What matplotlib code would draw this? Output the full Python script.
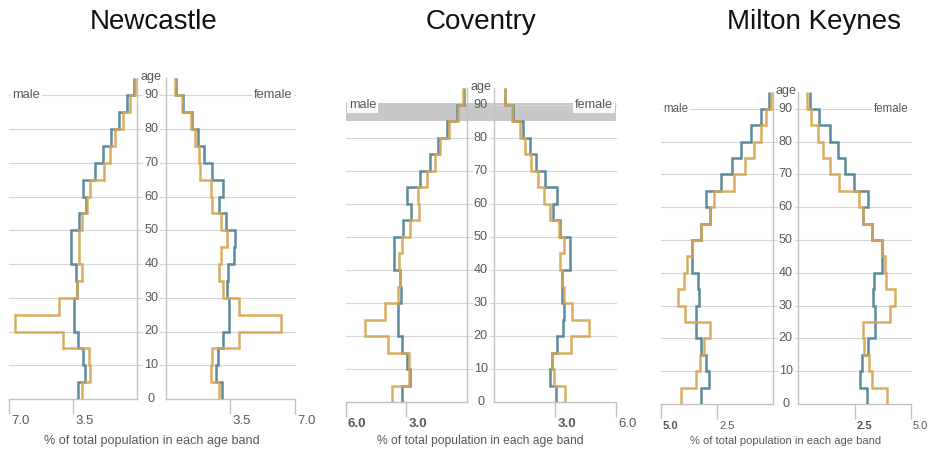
import numpy as np
import matplotlib.pyplot as plt

plt.rcParams['font.family'] = ['Liberation Sans', 'DejaVu Sans']

# five-year age bands, 90+ drawn up to 95
band_edges = [0, 5, 10, 15, 20, 25, 30, 35, 40, 45, 50, 55, 60, 65, 70, 75, 80, 85, 90, 95]
age_ticks = [0, 10, 20, 30, 40, 50, 60, 70, 80, 90]

# England and Wales profile (% of total population per band)
ew_male = [3.20, 2.85, 2.97, 3.21, 3.43, 3.42, 3.29, 3.33, 3.63, 3.63,
           3.19, 2.80, 2.98, 2.32, 1.85, 1.43, 0.99, 0.53, 0.18]
ew_female = [3.05, 2.73, 2.84, 3.09, 3.40, 3.42, 3.31, 3.35, 3.71, 3.73,
             3.25, 2.89, 3.10, 2.48, 2.07, 1.74, 1.41, 0.94, 0.53]

newcastle_male = [3.02, 2.55, 2.64, 4.03, 6.68, 4.24, 3.26, 3.02, 3.15, 3.15,
                  2.99, 2.71, 2.57, 1.80, 1.48, 1.20, 0.78, 0.40, 0.13]
newcastle_female = [2.89, 2.44, 2.51, 3.96, 6.22, 3.96, 3.11, 2.89, 2.98, 3.29,
                    2.97, 2.51, 2.42, 1.84, 1.81, 1.57, 1.34, 0.85, 0.49]

coventry_male = [3.71, 2.87, 2.90, 3.93, 5.07, 4.04, 3.42, 3.31, 3.37, 3.22,
                 2.84, 2.39, 2.43, 2.01, 1.60, 1.33, 0.91, 0.48, 0.20]
coventry_female = [3.46, 2.92, 2.82, 3.75, 4.67, 3.83, 3.42, 3.34, 3.25, 3.42,
                   3.20, 2.76, 2.46, 2.15, 1.82, 1.52, 1.27, 0.89, 0.53]

mk_male = [4.11, 3.43, 3.26, 3.09, 2.79, 3.93, 4.22, 3.97, 3.83, 3.63,
           3.21, 2.81, 2.62, 1.75, 1.26, 0.86, 0.55, 0.33, 0.12]
mk_female = [3.93, 3.27, 3.12, 2.90, 2.89, 4.05, 4.27, 3.90, 3.85, 3.73,
             3.26, 2.89, 2.71, 1.81, 1.41, 1.08, 0.86, 0.56, 0.40]

areas = ["Newcastle", "Coventry", "Milton Keynes"]
area_male = [newcastle_male, coventry_male, mk_male]
area_female = [newcastle_female, coventry_female, mk_female]
x_max = [7.0, 6.0, 5.0]
x_ticks = [[7.0, 3.5], [6.0, 3.0], [5.0, 2.5]]

# pixel layout of each pyramid: male (left, zero), female (zero, right),
# y of age 0, pixels per year, title centre, font sizes
layout = [
    dict(male=(9, 137), female=(166, 295), y0=399.0, ppy=3.375, title_x=154,
         bold_m=[], bold_f=[], band=None,
         tick_fs=9.5, label_fs=9.1, side_fs=9.3, age_fs=9.1),
    dict(male=(345.7, 467.3), female=(494.3, 616.3), y0=402.3, ppy=3.307, title_x=481,
         bold_m=[6.0, 3.0], bold_f=[3.0], band=(85, 90.4),
         tick_fs=9.5, label_fs=8.7, side_fs=9.1, age_fs=9.1),
    dict(male=(660.7, 773.3), female=(798.3, 911), y0=404.0, ppy=3.28, title_x=814,
         bold_m=[5.0], bold_f=[2.5], band=None,
         tick_fs=8.0, label_fs=8.0, side_fs=8.3, age_fs=9.0),
]

BLUE = "#5a8a9b"
ORANGE = "#d8a452"
GRID = "#d6d6d6"
AXIS = "#c2c2c2"
TEXT = "#595959"

W, H = 929, 453
fig = plt.figure(figsize=(W / 100, H / 100), dpi=100)


def px_axes(x0, x1, y_bottom, y_top):
    return fig.add_axes([x0 / W, 1 - y_bottom / H, (x1 - x0) / W, (y_bottom - y_top) / H])


for k, name in enumerate(areas):
    lay = layout[k]
    top_age = band_edges[-1]
    y0, ppy = lay['y0'], lay['ppy']
    y_top = y0 - top_age * ppy
    (mx0, mx1), (fx0, fx1) = lay['male'], lay['female']
    wm, wf = mx1 - mx0, fx1 - fx0
    half_gap = (fx0 - mx1) / 2
    centre = (mx1 + fx0) / 2

    ax_m = px_axes(mx0, mx1, y0, y_top)
    ax_f = px_axes(fx0, fx1, y0, y_top)
    ax_m.set_xlim(x_max[k], 0)
    ax_f.set_xlim(0, x_max[k])

    for ax, side in ((ax_m, 'right'), (ax_f, 'left')):
        ax.set_ylim(0, top_age)
        ax.patch.set_alpha(0)
        for s in ax.spines:
            ax.spines[s].set_visible(s in ('bottom', side))
            ax.spines[s].set_color(AXIS)
            ax.spines[s].set_linewidth(1)
        ax.set_yticks([])
        ax.set_xticks(x_ticks[k])
        ax.tick_params(axis='x', length=11, width=1, color=AXIS, labelbottom=False)

    # horizontal gridlines, broken around the age labels
    ext = half_gap - 9
    for a in age_ticks[1:]:
        ax_m.plot([0, 1 + ext / wm], [a, a], transform=ax_m.get_yaxis_transform(),
                  color=GRID, lw=0.8, clip_on=False, zorder=1)
        ax_f.plot([-ext / wf, 1], [a, a], transform=ax_f.get_yaxis_transform(),
                  color=GRID, lw=0.8, clip_on=False, zorder=1)

    if lay['band'] is not None:
        lo, hi = lay['band']
        ax_m.axhspan(lo, hi, xmin=0, xmax=(fx1 - mx0) / wm, color='#c8c8c8',
                     lw=0, clip_on=False, zorder=1.5)

    ax_m.stairs(ew_male, band_edges, orientation='horizontal', baseline=None,
                color=BLUE, lw=1.8, zorder=3)
    ax_m.stairs(area_male[k], band_edges, orientation='horizontal', baseline=None,
                color=ORANGE, lw=1.8, alpha=0.9, zorder=4)
    ax_f.stairs(ew_female, band_edges, orientation='horizontal', baseline=None,
                color=BLUE, lw=1.8, zorder=3)
    ax_f.stairs(area_female[k], band_edges, orientation='horizontal', baseline=None,
                color=ORANGE, lw=1.8, alpha=0.9, zorder=4)

    # age labels in the gap between the halves
    xc = 1 + half_gap / wm
    for a in age_ticks:
        ax_m.text(xc, a, str(a), transform=ax_m.get_yaxis_transform(),
                  ha='center', va='center', fontsize=lay['age_fs'], color=TEXT,
                  clip_on=False)
    ax_m.text(xc, 95.4, "age", transform=ax_m.get_yaxis_transform(),
              ha='center', va='center', fontsize=lay['age_fs'], color=TEXT, clip_on=False)

    box = dict(boxstyle='square,pad=0.15', fc='white', ec='none', alpha=0.9)
    ax_m.annotate("male", xy=(0, 90), xycoords=('axes fraction', 'data'),
                  xytext=(3, 0), textcoords='offset pixels', ha='left', va='center',
                  fontsize=lay['side_fs'], color=TEXT, bbox=box, zorder=5,
                  annotation_clip=False)
    ax_f.annotate("female", xy=(1, 90), xycoords=('axes fraction', 'data'),
                  xytext=(-3, 0), textcoords='offset pixels', ha='right', va='center',
                  fontsize=lay['side_fs'], color=TEXT, bbox=box, zorder=5,
                  annotation_clip=False)

    # value labels sit just right of their tick
    for ax, bold in ((ax_m, lay['bold_m']), (ax_f, lay['bold_f'])):
        for t in x_ticks[k]:
            ax.annotate(f"{t:.1f}", xy=(t, 0), xycoords=('data', 'axes fraction'),
                        xytext=(2, -22), textcoords='offset pixels',
                        ha='left', va='center', fontsize=lay['tick_fs'], color=TEXT,
                        fontweight='bold' if t in bold else 'normal',
                        annotation_clip=False)

    fig.text(centre / W, 1 - 441 / H, "% of total population in each age band",
             ha='center', va='center', fontsize=lay['label_fs'], color=TEXT)
    fig.text(lay['title_x'] / W, 1 - 22 / H, name, ha='center', va='center',
             fontsize=20, color='#111111')

fig.savefig("out.png", dpi=100)
